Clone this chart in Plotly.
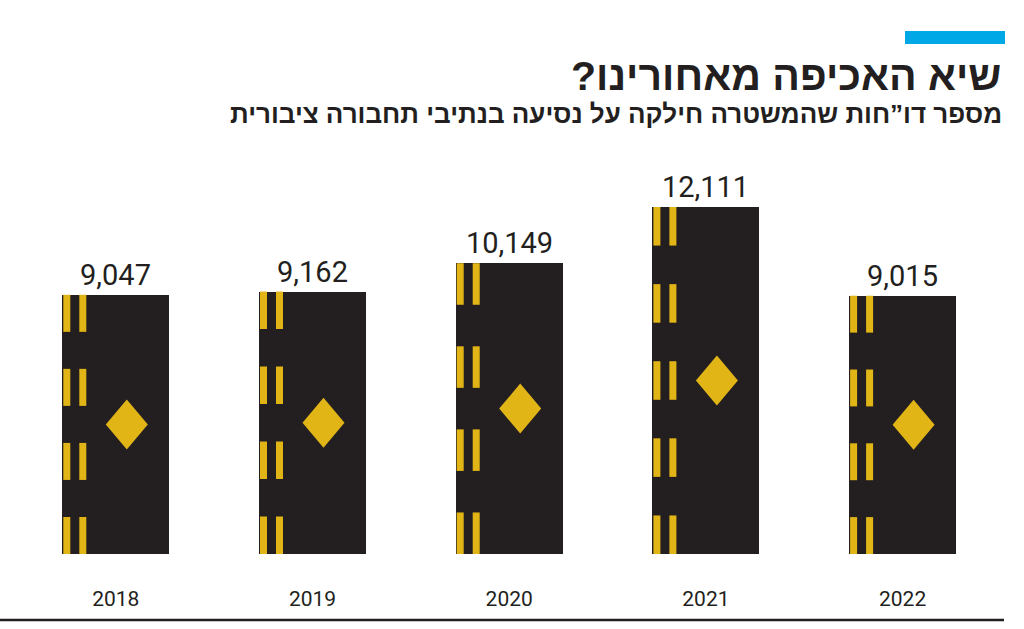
import plotly.graph_objects as go

# ---- data ----
years = ["2018", "2019", "2020", "2021", "2022"]
reports = [9047, 9162, 10149, 12111, 9015]
title_text = "שיא האכיפה מאחורינו?"
subtitle_text = "מספר דו”חות שהמשטרה חילקה על נסיעה בנתיבי תחבורה ציבורית"

# ---- style ----
W, H = 1024, 629
DARK = "#231f20"
YELLOW = "#e2b517"
BLUE = "#00a9e6"
M_TOP, M_BOT = 140, 75
PX_PER_X = 196.7          # pixels per category step
X0_PX = 115.8             # pixel position of first bar centre
PX_PER_Y = 0.02865        # pixels per report
BAR_PX = 107
RLM = "\u200f"

plot_h = H - M_TOP - M_BOT
x_range = [-X0_PX / PX_PER_X, (W - X0_PX) / PX_PER_X]
y_range = [0, plot_h / PX_PER_Y]
dx = 1 / PX_PER_X   # x units per pixel
dy = 1 / PX_PER_Y   # y units per pixel
bar_w = BAR_PX * dx

def py_to_paper(py):
    return (H - M_BOT - py) / plot_h

xs = list(range(len(years)))

fig = go.Figure()
fig.add_trace(go.Bar(
    x=xs, y=reports, width=bar_w,
    marker=dict(color=DARK, line=dict(width=0)),
    text=reports, texttemplate="%{y:,}", textposition="outside",
    textfont=dict(family="Roboto", size=29, color=DARK),
    cliponaxis=False, hoverinfo="skip",
))

shapes = []
for x, v in zip(xs, reports):
    left = x - bar_w / 2
    h_px = v * PX_PER_Y
    n = max(1, round((h_px / 37.5 + 1) / 2))
    seg = v / (2 * n - 1)
    for off0, off1 in [(1, 8), (17, 24)]:
        for k in range(n):
            shapes.append(dict(
                type="rect", xref="x", yref="y",
                x0=left + off0 * dx, x1=left + off1 * dx,
                y0=v - 2 * k * seg, y1=v - (2 * k + 1) * seg,
                fillcolor=YELLOW, line=dict(width=0), layer="above"))
    cx, cy = x + 11 * dx, v / 2
    hw, hh = 21 * dx, 25 * dy
    shapes.append(dict(
        type="path", xref="x", yref="y",
        path=f"M {cx},{cy + hh} L {cx + hw},{cy} L {cx},{cy - hh} L {cx - hw},{cy} Z",
        fillcolor=YELLOW, line=dict(width=0), layer="above"))

# blue accent bar and bottom rule
shapes.append(dict(type="rect", xref="paper", yref="paper",
                   x0=905 / W, x1=1005 / W, y0=py_to_paper(44), y1=py_to_paper(31),
                   fillcolor=BLUE, line=dict(width=0)))
shapes.append(dict(type="line", xref="paper", yref="paper",
                   x0=0, x1=1004 / W, y0=py_to_paper(620), y1=py_to_paper(620),
                   line=dict(color=DARK, width=2.5)))

annotations = [
    dict(text=f"<b>{RLM}{title_text}{RLM}</b>", xref="paper", yref="paper",
         x=1003 / W, y=py_to_paper(76), xanchor="right", yanchor="middle",
         showarrow=False, font=dict(family="Liberation Sans, DejaVu Sans", size=41, color=DARK)),
    dict(text=f"<b>{RLM}{subtitle_text}{RLM}</b>", xref="paper", yref="paper",
         x=1004 / W, y=py_to_paper(114), xanchor="right", yanchor="middle",
         showarrow=False, font=dict(family="Liberation Sans, DejaVu Sans", size=26, color=DARK)),
]

fig.update_layout(
    width=W, height=H,
    margin=dict(l=0, r=0, t=M_TOP, b=M_BOT, pad=0),
    paper_bgcolor="white", plot_bgcolor="white",
    showlegend=False,
    shapes=shapes, annotations=annotations,
    xaxis=dict(range=x_range, tickmode="array", tickvals=xs, ticktext=years,
               showgrid=False, zeroline=False, showline=False, ticks="",
               ticklabelstandoff=30,
               tickfont=dict(family="Roboto", size=21, color=DARK)),
    yaxis=dict(range=y_range, visible=False, showgrid=False, zeroline=False),
    bargap=0,
)

fig.write_html("out.html", config={"displayModeBar": False},
               post_script="document.body.style.margin='0';")
